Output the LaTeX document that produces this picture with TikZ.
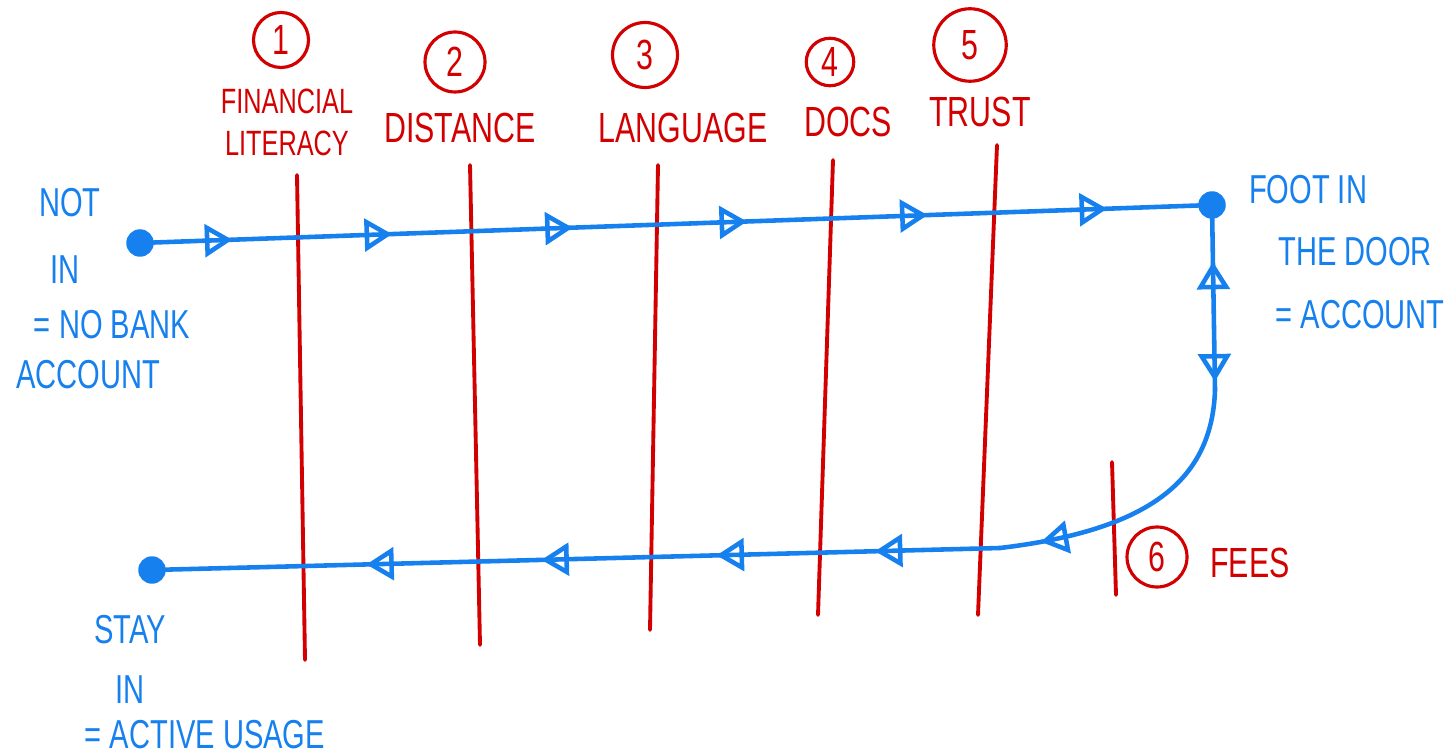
\documentclass[tikz,border=0pt]{standalone}
\usepackage{fontspec}
\setmainfont{Liberation Sans}
\newfontfamily\hand[FakeStretch=0.72]{Liberation Sans}
\usetikzlibrary{arrows.meta,decorations.markings}
\definecolor{penblue}{RGB}{22,128,238}
\definecolor{penred}{RGB}{210,0,0}
\tikzset{
  fwd/.tip={Triangle[open,length=0.55cm,width=0.65cm]},
  flow/.style={draw=penblue,line width=2.6pt,line cap=round,postaction={decorate}},
  dot/.style={circle,fill=penblue,inner sep=0pt,minimum size=0.55cm},
  barrier/.style={draw=penred,line width=2.2pt,line cap=round},
  num/.style={circle,draw=penred,line width=1.8pt,text=penred,inner sep=0pt,minimum size=1.2cm,font=\hand\fontsize{24}{24}\selectfont},
  rlabel/.style={text=penred,inner sep=0pt,align=center,font=\hand\fontsize{24}{26}\selectfont},
  blabel/.style={text=penblue,inner sep=0pt,font=\hand\fontsize{23}{25}\selectfont}
}
\begin{document}
\begin{tikzpicture}[x=0.02cm,y=-0.02cm]
      \useasboundingbox (0,0) rectangle (1456,756);
      \node[dot] (notin) at (140,243) {};
      \node[dot] (foot) at (1212,205) {};
      \node[dot] (stayin) at (152,570) {};
      \coordinate (bend) at (1215,390);
      \coordinate (turn) at (1000,548);
      \draw[barrier] (297,175) -- (305,660);
      \draw[barrier] (470,165) -- (480,645);
      \draw[barrier] (658,165) -- (650,630);
      \draw[barrier] (833,160) -- (818,615);
      \draw[barrier] (997,145) -- (978,615);
      \draw[barrier] (1112,462) -- (1116,595);
      \draw[flow,decoration={markings,
          mark=at position 0.075 with {\arrow{fwd}},
          mark=at position 0.228 with {\arrow{fwd}},
          mark=at position 0.401 with {\arrow{fwd}},
          mark=at position 0.568 with {\arrow{fwd}},
          mark=at position 0.741 with {\arrow{fwd}},
          mark=at position 0.913 with {\arrow{fwd}}}] (notin) -- (foot);
      \draw[flow,decoration={markings,
          mark=at position 0.25 with {\arrowreversed{fwd}},
          mark=at position 0.95 with {\arrow{fwd}}}] (foot) -- (bend);
      \draw[flow,decoration={markings,
          mark=at position 0.86 with {\arrow{fwd}}}] (bend) .. controls (1212,480) and (1150,530) .. (turn);
      \draw[flow,decoration={markings,
          mark=at position 0.15 with {\arrow{fwd}},
          mark=at position 0.34 with {\arrow{fwd}},
          mark=at position 0.55 with {\arrow{fwd}},
          mark=at position 0.76 with {\arrow{fwd}}}] (turn) -- (stayin);
      \node[num,minimum size=1.1cm] (n1) at (281,40) {1};
      \node[num] (n2) at (455,62) {2};
      \node[num,minimum size=1.3cm] (n3) at (645,55) {3};
      \node[num,minimum size=0.95cm] (n4) at (830,62) {4};
      \node[num,minimum size=1.45cm] (n5) at (970,45) {5};
      \node[num] (n6) at (1157,557) {6};
      \node[rlabel,font=\hand\fontsize{20}{24}\selectfont] (literacy) at (287,122) {FINANCIAL\\LITERACY};
      \node[rlabel] (distance) at (460,128) {DISTANCE};
      \node[rlabel] (language) at (683,128) {LANGUAGE};
      \node[rlabel] (docs) at (848,122) {DOCS};
      \node[rlabel] (trust) at (980,112) {TRUST};
      \node[rlabel] (fees) at (1250,563) {FEES};
      \node[blabel] (notin1) at (70,203) {NOT};
      \node[blabel] (notin2) at (65,270) {IN};
      \node[blabel] (notin3) at (112,325) {= NO BANK};
      \node[blabel] (notin4) at (88,375) {ACCOUNT};
      \node[blabel] (foot1) at (1308,190) {FOOT IN};
      \node[blabel] (foot2) at (1355,252) {THE DOOR};
      \node[blabel] (foot3) at (1360,315) {= ACCOUNT};
      \node[blabel] (stay1) at (130,630) {STAY};
      \node[blabel] (stay2) at (130,690) {IN};
      \node[blabel] (stay3) at (205,735) {= ACTIVE USAGE};
    \end{tikzpicture}
\end{document}
